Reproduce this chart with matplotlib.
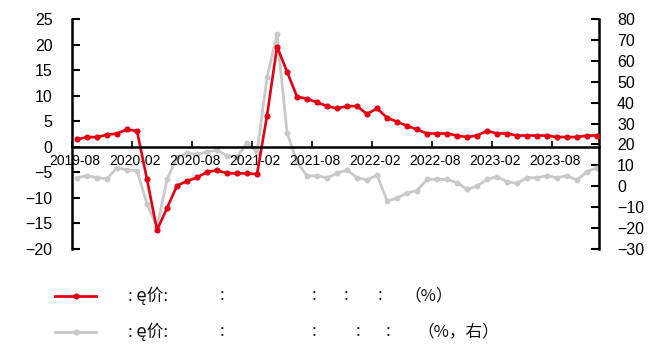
import numpy as np
import matplotlib
matplotlib.use("Agg")
import matplotlib.pyplot as plt
from matplotlib.lines import Line2D
from matplotlib.transforms import ScaledTranslation

# Monthly series, 2019-08 .. 2023-12
red_vals = [1.45, 1.9, 1.9, 2.35, 2.6, 3.4, 3.1, -6.4, -16.3, -12.0,
            -7.6, -6.7, -6.0, -4.95, -4.6, -5.2, -5.2, -5.2, -5.35, 6.1,
            19.6, 14.7, 9.8, 9.4, 8.7, 7.95, 7.5, 7.95, 7.95, 6.4,
            7.5, 5.7, 4.9, 4.1, 3.4, 2.6, 2.6, 2.6, 2.2, 1.9,
            2.2, 3.1, 2.6, 2.6, 2.2, 2.2, 2.2, 2.2, 1.9, 1.9,
            1.9, 2.2, 2.2]
gray_vals = [4.1, 5.0, 4.1, 3.6, 8.9, 7.8, 7.4, -8.5, -19.3, 3.3,
             14.1, 15.7, 15.3, 16.4, 17.2, 14.6, 14.1, 20.5, 16.4, 52.1,
             72.7, 25.6, 11.5, 5.0, 5.0, 4.1, 6.2, 7.8, 4.1, 3.0,
             5.4, -7.0, -5.75, -3.1, -2.1, 3.3, 3.3, 3.3, 1.7, -1.5,
             0.1, 3.3, 4.6, 2.2, 1.4, 4.1, 4.1, 5.0, 4.1, 5.0,
             3.0, 7.0, 8.9]
tick_labels = ["2019-08", "2020-02", "2020-08", "2021-02", "2021-08",
               "2022-02", "2022-08", "2023-02", "2023-08"]
tick_index = [0, 6, 12, 18, 24, 30, 36, 42, 48]

RED = "#E60012"
GRAY = "#C9C9C9"

plt.rcParams["font.family"] = ["Liberation Sans", "DejaVu Sans"]

fig = plt.figure(figsize=(6.49, 3.47), dpi=100)
ax = fig.add_axes([0.111, 0.2824, 0.812, 0.6628])
ax2 = ax.twinx()

x = np.arange(len(red_vals))

ax2.plot(x, gray_vals, color=GRAY, lw=2.0, marker="o", ms=3.2,
         markerfacecolor=GRAY, markeredgecolor=GRAY)
ax.plot(x, red_vals, color=RED, lw=1.9, marker="o", ms=3.4,
        markerfacecolor=RED, markeredgecolor=RED)

# draw the left axis lines on top of the right-axis series
ax.set_zorder(ax2.get_zorder() + 1)
ax.patch.set_visible(False)

ax.set_xlim(-0.5, 52.2)
ax.set_ylim(-20, 25)
ax.set_yticks(np.arange(-20, 26, 5))
ax2.set_ylim(-30, 80)
ax2.set_yticks(np.arange(-30, 81, 10))

for a in (ax, ax2):
    a.spines["top"].set_visible(False)
ax2.spines["bottom"].set_visible(False)
ax2.spines["left"].set_visible(False)
ax.spines["right"].set_visible(False)
ax.spines["bottom"].set_position(("data", 0))
for s in ("left", "bottom"):
    ax.spines[s].set_linewidth(1.8)
ax2.spines["right"].set_linewidth(1.8)

ax.set_xticks(np.array(tick_index) - 0.5)
ax.set_xticklabels(tick_labels)
ax.tick_params(axis="x", direction="in", length=4, width=1.2, pad=5,
               labelsize=10)
ax.tick_params(axis="y", direction="in", length=6, width=1.5, pad=14,
               labelsize=11.5)
ax2.tick_params(axis="y", direction="in", length=6, width=1.5, pad=13,
                labelsize=11.5)

shift = ScaledTranslation(0.03, 0, fig.dpi_scale_trans)
for lbl in ax.get_xticklabels():
    lbl.set_transform(lbl.get_transform() + shift)

# legend drawn by hand below the plot
W, H = 649.0, 347.0
def fx(px):
    return px / W
def fy(py):
    return 1 - py / H

leg_font = ["Noto Sans CJK SC", "DejaVu Sans"]
rows = [
    (296, RED, [(128, ": ę价:"), (220, ":"), (312, ":"), (344, ":"),
                (378, ":"), (404, "（%）")]),
    (332, GRAY, [(128, ": ę价:"), (220, ":"), (312, ":"), (356, ":"),
                 (386, ":"), (417, "（%，右）")]),
]
for py, col, pieces in rows:
    fig.add_artist(Line2D([fx(55), fx(96)], [fy(py), fy(py)], color=col,
                          lw=2.0, transform=fig.transFigure))
    fig.add_artist(Line2D([fx(75.5)], [fy(py)], color=col, marker="o",
                          ms=3.4, lw=0, transform=fig.transFigure))
    for px, txt in pieces:
        fig.text(fx(px), fy(py), txt, ha="left", va="center", fontsize=12,
                 family=leg_font, color="#111111")

fig.savefig("out.png", dpi=100)
